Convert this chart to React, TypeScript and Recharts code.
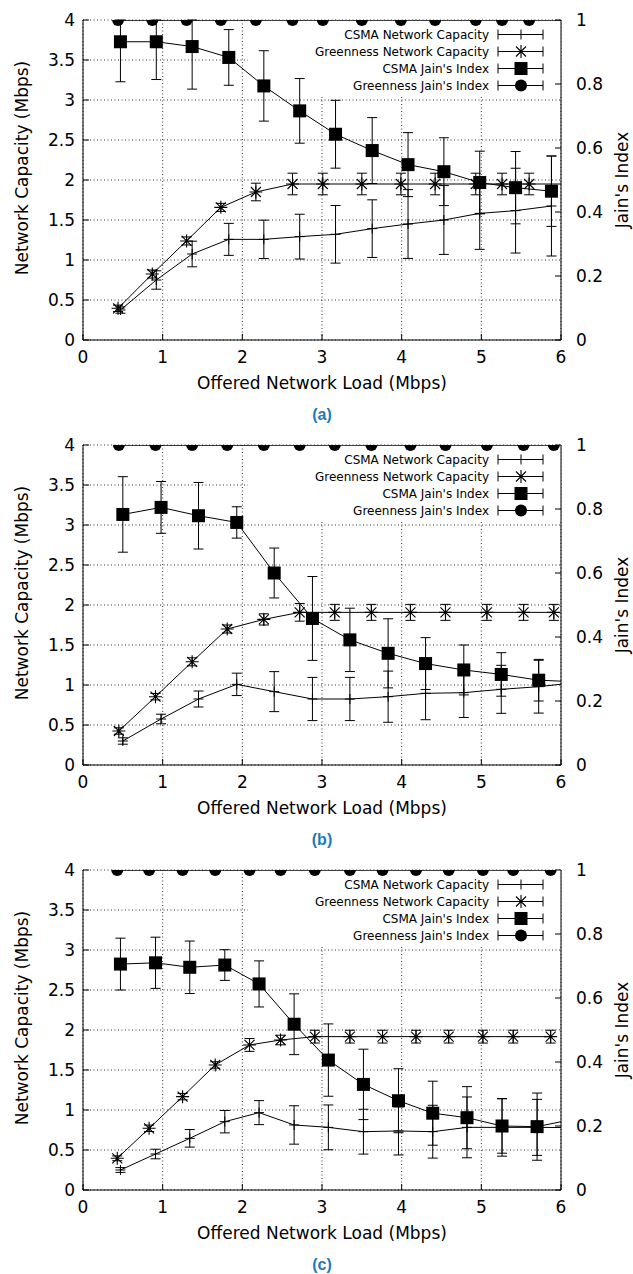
import { ComposedChart, Line, XAxis, YAxis, CartesianGrid, ErrorBar, ReferenceArea, Legend, Label } from 'recharts';

const xTicks = [0, 1, 2, 3, 4, 5, 6];
const capTicks = [0, 0.5, 1, 1.5, 2, 2.5, 3, 3.5, 4];
const jainTicks = [0, 0.2, 0.4, 0.6, 0.8, 1];

// (a)
const csmaLoadA = [0.47, 0.92, 1.37, 1.83, 2.27, 2.72, 3.17, 3.63, 4.08, 4.53, 4.98, 5.43, 5.88];
const csmaCapA = [0.375, 0.75, 1.075, 1.258, 1.258, 1.292, 1.321, 1.392, 1.45, 1.5, 1.583, 1.617, 1.675];
const csmaCapErrA = [0.04, 0.115, 0.16, 0.2, 0.24, 0.28, 0.36, 0.36, 0.43, 0.43, 0.45, 0.53, 0.625];
const csmaJainA = [0.932, 0.932, 0.917, 0.883, 0.794, 0.716, 0.643, 0.592, 0.548, 0.526, 0.492, 0.476, 0.465];
const csmaJainErrA = [0.125, 0.118, 0.133, 0.087, 0.11, 0.101, 0.106, 0.103, 0.1, 0.106, 0.098, 0.113, 0.11];
const greenLoadA = [0.44, 0.87, 1.3, 1.73, 2.17, 2.63, 3.01, 3.5, 3.99, 4.42, 4.93, 5.26, 5.6, 6.12];
const greenCapA = [0.396, 0.825, 1.238, 1.658, 1.85, 1.95, 1.95, 1.95, 1.95, 1.95, 1.95, 1.95, 1.95, 1.95];
const greenCapErrA = [0.04, 0.05, 0.05, 0.05, 0.11, 0.135, 0.135, 0.135, 0.135, 0.135, 0.135, 0.135, 0.135, 0.135];
const greenJainA = [1, 1, 1, 1, 1, 1, 1, 1, 1, 1, 1, 1, 1, 1];

// (b)
const csmaLoadB = [0.5, 0.98, 1.45, 1.93, 2.4, 2.88, 3.35, 3.83, 4.3, 4.78, 5.25, 5.72, 6.19];
const csmaCapB = [0.3, 0.575, 0.825, 1.008, 0.917, 0.825, 0.825, 0.854, 0.896, 0.904, 0.946, 0.979, 1.03];
const csmaCapErrB = [0.04, 0.06, 0.1, 0.14, 0.25, 0.27, 0.27, 0.32, 0.33, 0.31, 0.3, 0.33, 0.33];
const csmaJainB = [0.783, 0.805, 0.779, 0.758, 0.6, 0.458, 0.391, 0.349, 0.317, 0.297, 0.283, 0.265, 0.26];
const csmaJainErrB = [0.118, 0.081, 0.104, 0.049, 0.078, 0.131, 0.099, 0.108, 0.081, 0.078, 0.068, 0.065, 0.065];
const greenLoadB = [0.45, 0.91, 1.37, 1.81, 2.27, 2.72, 3.16, 3.62, 4.11, 4.55, 5.07, 5.53, 5.91];
const greenCapB = [0.425, 0.854, 1.29, 1.7, 1.82, 1.908, 1.908, 1.908, 1.908, 1.908, 1.908, 1.908, 1.908];
const greenCapErrB = [0.04, 0.04, 0.05, 0.05, 0.07, 0.11, 0.1, 0.1, 0.1, 0.1, 0.1, 0.1, 0.1];
const greenJainB = [1, 1, 1, 1, 1, 1, 1, 1, 1, 1, 1, 1, 1];

// (c)
const csmaLoadC = [0.47, 0.91, 1.34, 1.78, 2.21, 2.65, 3.08, 3.52, 3.96, 4.39, 4.82, 5.26, 5.7, 6.13];
const csmaCapC = [0.25, 0.45, 0.646, 0.854, 0.967, 0.813, 0.783, 0.729, 0.738, 0.729, 0.783, 0.783, 0.783, 0.78];
const csmaCapErrC = [0.03, 0.06, 0.11, 0.14, 0.15, 0.24, 0.28, 0.28, 0.3, 0.33, 0.38, 0.36, 0.35, 0.35];
const csmaJainC = [0.706, 0.71, 0.696, 0.703, 0.644, 0.518, 0.406, 0.33, 0.279, 0.24, 0.226, 0.2, 0.198, 0.22];
const csmaJainErrC = [0.081, 0.08, 0.082, 0.048, 0.072, 0.095, 0.113, 0.11, 0.1, 0.1, 0.097, 0.085, 0.105, 0.1];
const greenLoadC = [0.43, 0.83, 1.25, 1.66, 2.09, 2.48, 2.91, 3.35, 3.76, 4.18, 4.59, 5.02, 5.4, 5.87];
const greenCapC = [0.396, 0.771, 1.167, 1.563, 1.813, 1.875, 1.917, 1.917, 1.917, 1.917, 1.917, 1.917, 1.917, 1.917];
const greenCapErrC = [0.03, 0.04, 0.04, 0.04, 0.08, 0.06, 0.08, 0.08, 0.08, 0.08, 0.08, 0.08, 0.08, 0.08];
const greenJainC = [1, 1, 1, 1, 1, 1, 1, 1, 1, 1, 1, 1, 1, 1];

const seriesNames = ['CSMA Network Capacity', 'Greenness Network Capacity', "CSMA Jain's Index", "Greenness Jain's Index"];

const X_MAX = 6;

type Pt = { x: number; y: number; e: [number, number] | null };
// error bars are cut at the plot frame, as in the original figure
const zip = (xs: number[], ys: number[], es: number[] | null, top: number): Pt[] =>
  xs.map((x, i) => {
    const y = ys[i];
    if (!es || x > X_MAX) return { x, y, e: null };
    const err = es[i];
    return { x, y, e: [Math.min(err, y), Math.min(err, top - y)] };
  });

const FONT = "'DejaVu Sans', sans-serif";

const PlusMark = ({ cx, cy }: any) => (
  <path d={`M${cx - 5},${cy}h10M${cx},${cy - 5}v10`} stroke="#000" strokeWidth={1} fill="none" />
);
const StarMark = ({ cx, cy }: any) => (
  <path
    d={`M${cx - 6.5},${cy}h13M${cx},${cy - 6.5}v13M${cx - 5},${cy - 5}l10,10M${cx - 5},${cy + 5}l10,-10`}
    stroke="#000"
    strokeWidth={1.1}
    fill="none"
  />
);
const SquareMark = ({ cx, cy }: any) => <rect x={cx - 6.5} y={cy - 6.5} width={13} height={13} fill="#000" />;
const CircleMark = ({ cx, cy }: any) => <circle cx={cx} cy={cy} r={6} fill="#000" />;

const marks = [PlusMark, StarMark, SquareMark, CircleMark];

const dotOf = (Mark: any) => (p: any) => {
  if (p.cx == null || p.cy == null) return <g key={p.key ?? p.index} />;
  return <Mark key={p.key ?? p.index} cx={p.cx} cy={p.cy} />;
};

const LegendBox = () => (
  <div style={{ fontFamily: FONT, fontSize: 12, color: '#000' }}>
    {seriesNames.map((name, i) => {
      const Mark = marks[i];
      return (
        <div key={name} style={{ display: 'flex', justifyContent: 'flex-end', alignItems: 'center', height: 17 }}>
          <span style={{ whiteSpace: 'nowrap' }}>{name}</span>
          <svg width={54} height={17} style={{ marginLeft: 3, overflow: 'visible' }}>
            <g stroke="#000" strokeWidth={1}>
              <line x1={6} x2={51} y1={8.5} y2={8.5} />
              <line x1={6} x2={6} y1={3.5} y2={13.5} />
              <line x1={51} x2={51} y1={3.5} y2={13.5} />
            </g>
            <Mark cx={29} cy={8.5} />
          </svg>
        </div>
      );
    })}
  </div>
);

const XTitle = ({ viewBox }: any) => (
  <text x={viewBox.x + viewBox.width / 2} y={viewBox.y + 43} textAnchor="middle" dominantBaseline="central"
    fontSize={17} fontFamily={FONT} fill="#000">
    Offered Network Load (Mbps)
  </text>
);
const LeftTitle = ({ viewBox }: any) => {
  const cx = viewBox.x - 1;
  const cy = viewBox.y + viewBox.height / 2 - 12;
  return (
    <text x={cx} y={cy} transform={`rotate(-90 ${cx} ${cy})`} textAnchor="middle" dominantBaseline="central"
      fontSize={17} fontFamily={FONT} fill="#000">
      Network Capacity (Mbps)
    </text>
  );
};
const RightTitle = ({ viewBox }: any) => {
  const cx = viewBox.x + 61;
  const cy = viewBox.y + viewBox.height / 2;
  return (
    <text x={cx} y={cy} transform={`rotate(-90 ${cx} ${cy})`} textAnchor="middle" dominantBaseline="central"
      fontSize={17} fontFamily={FONT} fill="#000">
      Jain's Index
    </text>
  );
};

interface PanelProps {
  caption: string;
  csmaLoad: number[];
  csmaCap: number[];
  csmaCapErr: number[];
  csmaJain: number[];
  csmaJainErr: number[];
  greenLoad: number[];
  greenCap: number[];
  greenCapErr: number[];
  greenJain: number[];
}

function Panel(props: PanelProps) {
  const csmaCap = zip(props.csmaLoad, props.csmaCap, props.csmaCapErr, 4);
  const greenCap = zip(props.greenLoad, props.greenCap, props.greenCapErr, 4);
  const csmaJain = zip(props.csmaLoad, props.csmaJain, props.csmaJainErr, 1);
  const greenJain = zip(props.greenLoad, props.greenJain, null, 1);
  const tickStyle = { fill: '#000', fontSize: 17, fontFamily: FONT };

  return (
    <div style={{ position: 'relative', width: 633, height: 425 }}>
      <ComposedChart width={633} height={400} margin={{ top: 20, right: 22, bottom: 10, left: 23 }}>
        <CartesianGrid xAxisId="b" yAxisId="left" stroke="#333" strokeDasharray="1 2.5" />
        <ReferenceArea xAxisId="b" yAxisId="left" x1={2.07} x2={6} y1={3.06} y2={4} fill="#fff" fillOpacity={1} stroke="none" />
        <XAxis xAxisId="b" dataKey="x" type="number" domain={[0, X_MAX]} ticks={xTicks} allowDataOverflow height={50}
          stroke="#000" tickSize={-6} tickMargin={17} tick={tickStyle}>
          <Label content={XTitle} />
        </XAxis>
        <XAxis xAxisId="t" orientation="top" dataKey="x" type="number" domain={[0, X_MAX]} ticks={xTicks} allowDataOverflow
          height={0} stroke="#000" tickSize={-6} tick={false} />
        <YAxis yAxisId="left" type="number" domain={[0, 4]} ticks={capTicks} width={60} stroke="#000"
          tickSize={-6} tickMargin={14} tick={tickStyle} allowDataOverflow>
          <Label content={LeftTitle} />
        </YAxis>
        <YAxis yAxisId="right" orientation="right" type="number" domain={[0, 1]} ticks={jainTicks} width={50}
          stroke="#000" tickSize={-6} tickMargin={21} tick={tickStyle} allowDataOverflow>
          <Label content={RightTitle} />
        </YAxis>
        <Legend layout="vertical" align="center" verticalAlign="middle" content={LegendBox}
          wrapperStyle={{ left: 200, top: 26, width: 346 }} />
        <Line xAxisId="b" yAxisId="left" data={csmaCap} dataKey="y" name={seriesNames[0]} type="linear" stroke="#000"
          strokeWidth={1} dot={dotOf(PlusMark)} isAnimationActive={false}>
          <ErrorBar dataKey="e" direction="y" width={5} stroke="#000" strokeWidth={1} />
        </Line>
        <Line xAxisId="b" yAxisId="left" data={greenCap} dataKey="y" name={seriesNames[1]} type="linear" stroke="#000"
          strokeWidth={1} dot={dotOf(StarMark)} isAnimationActive={false}>
          <ErrorBar dataKey="e" direction="y" width={5} stroke="#000" strokeWidth={1} />
        </Line>
        <Line xAxisId="b" yAxisId="right" data={csmaJain} dataKey="y" name={seriesNames[2]} type="linear" stroke="#000"
          strokeWidth={1} dot={dotOf(SquareMark)} isAnimationActive={false}>
          <ErrorBar dataKey="e" direction="y" width={5} stroke="#000" strokeWidth={1} />
        </Line>
        <Line xAxisId="b" yAxisId="right" data={greenJain} dataKey="y" name={seriesNames[3]} type="linear" stroke="#000"
          strokeWidth={1.5} dot={{ r: 6, fill: '#000', stroke: 'none', strokeWidth: 0 }} isAnimationActive={false} />
      </ComposedChart>
      <div style={{ position: 'absolute', left: 0, width: 644, top: 405, textAlign: 'center', fontFamily: "'Liberation Sans', Arial, sans-serif",
        fontWeight: 'bold', fontSize: 16, lineHeight: '20px', color: '#1f7ab8' }}>
        {props.caption}
      </div>
    </div>
  );
}

export default function App() {
  return (
    <div style={{ position: 'absolute', left: 0, top: 0, width: 633, height: 1274, background: '#fff', fontFamily: FONT }}>
      <Panel caption="(a)" csmaLoad={csmaLoadA} csmaCap={csmaCapA} csmaCapErr={csmaCapErrA} csmaJain={csmaJainA}
        csmaJainErr={csmaJainErrA} greenLoad={greenLoadA} greenCap={greenCapA} greenCapErr={greenCapErrA} greenJain={greenJainA} />
      <Panel caption="(b)" csmaLoad={csmaLoadB} csmaCap={csmaCapB} csmaCapErr={csmaCapErrB} csmaJain={csmaJainB}
        csmaJainErr={csmaJainErrB} greenLoad={greenLoadB} greenCap={greenCapB} greenCapErr={greenCapErrB} greenJain={greenJainB} />
      <Panel caption="(c)" csmaLoad={csmaLoadC} csmaCap={csmaCapC} csmaCapErr={csmaCapErrC} csmaJain={csmaJainC}
        csmaJainErr={csmaJainErrC} greenLoad={greenLoadC} greenCap={greenCapC} greenCapErr={greenCapErrC} greenJain={greenJainC} />
    </div>
  );
}
